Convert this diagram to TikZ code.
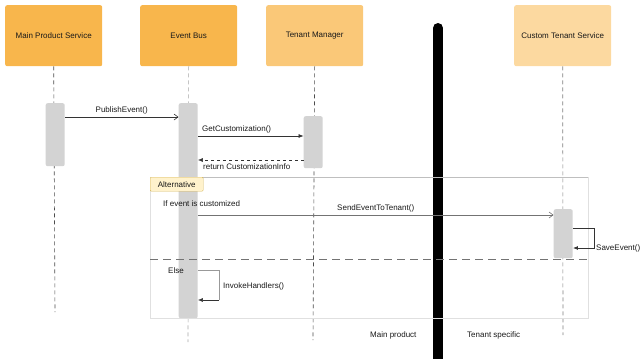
\documentclass[tikz,border=0pt]{standalone}
\usepackage{fontspec}
\setmainfont{Liberation Sans}
\usetikzlibrary{arrows.meta}
\definecolor{orA}{HTML}{F8B64C}
\definecolor{orB}{HTML}{FAC878}
\definecolor{orC}{HTML}{FCD9A0}
\definecolor{actg}{HTML}{D3D3D3}
\definecolor{altfill}{HTML}{FFF2CC}
\definecolor{altdraw}{HTML}{D6B656}
\tikzset{
  x=1pt,y=-1pt,
  every node/.style={font=\fontsize{8}{9}\selectfont, text=black!90},
  header/.style={rounded corners=2pt, minimum width=97pt, minimum height=61pt, anchor=north west, inner sep=0},
  life/.style={dashed, draw=black!70, line width=0.6pt, dash pattern=on 4pt off 3pt},
  actbox/.style={fill=actg, rounded corners=2pt, draw=none, minimum width=19pt, anchor=north west, inner sep=0},
  msg/.style={line width=0.6pt, draw=black!80},
  openarr/.style={-{Straight Barb[length=4pt,width=6pt]}},
  fillarr/.style={-{Latex[length=5pt,width=4pt]}},
  lbl/.style={inner sep=0, anchor=base west},
}
\begin{document}
\begin{tikzpicture}
\useasboundingbox (0,0) rectangle (641,359);
% headers
\node[header, fill=orA] (h1) at (5,5) {Main Product Service};
\node[header, fill=orA] (h2) at (140,5) {Event Bus};
\node[header, fill=orB] (h3) at (266,5) {Tenant Manager};
\node[header, fill=orC] (h4) at (514,5) {Custom Tenant Service};
% lifeline ends
\coordinate (e1) at (55,312);
\coordinate (e2) at (188,342);
\coordinate (e3) at (313,340);
\coordinate (e4) at (563,335);
\draw[life] (h1.south) -- (e1);
\draw[life, draw=black!35] (h2.south) -- (e2);
\draw[life] (h3.south) -- (e3);
\draw[life, draw=black!50] (h4.south) -- (e4);
% thick separator
\draw[line width=10pt, line cap=round] (438,28) -- (438,370);
% activations
\node[actbox, minimum height=63pt] (a1) at (45.5,103) {};
\node[actbox, minimum height=215pt] (a2) at (178.5,103) {};
\node[actbox, minimum height=52pt] (a3) at (303.5,116) {};
\node[actbox, minimum height=49pt] (a4) at (553.5,209) {};
% frame
\draw[black!25, line width=0.5pt] (150,177) -- (588,177);
\draw[black!12, line width=0.5pt] (588,177) -- (588,318) -- (150,318) -- (150,177);
\draw[black!55, line width=1pt, dash pattern=on 8pt off 5pt] (150,259) -- (588,259);
\node[draw=altdraw, fill=altfill, rounded corners=1pt, minimum width=53pt, minimum height=14pt, inner sep=0, anchor=north west] (alt) at (150,177) {Alternative};
% messages
\draw[msg, openarr] (a1.east |- 0,117) -- node[above=3pt, inner sep=0] {PublishEvent()} (a2.west |- 0,117);
\draw[msg, fillarr] (a2.east |- 0,136) -- (a3.west |- 0,136);
\node[lbl] (l2) at (202,131) {GetCustomization()};
\draw[msg, fillarr, dashed] (a3.west |- 0,160) -- (a2.east |- 0,160);
\node[lbl] (l3) at (203,169) {return CustomizationInfo};
\node[lbl] (cond) at (163,206) {If event is customized};
\draw[msg, black!55, openarr] (a2.east |- 0,215) -- node[above=3pt, inner sep=0] {SendEventToTenant()} (a4.west |- 0,215);
\draw[msg, line width=0.9pt, fillarr] (a4.east |- 0,228) -| (594,248) -- (a4.east |- 0,248);
\node[lbl] (l5) at (596,250) {SaveEvent()};
\node[lbl] (else) at (168,273) {Else};
\draw[msg, black!40, line width=0.4pt] (a2.east |- 0,270) -| (219,300);
\draw[msg, fillarr] (219,300) -- (a2.east |- 0,300);
\node[lbl] (l6) at (223,288) {InvokeHandlers()};
\node[lbl] (mp) at (370,337) {Main product};
\node[lbl] (ts) at (467,337) {Tenant specific};
\end{tikzpicture}
\end{document}
